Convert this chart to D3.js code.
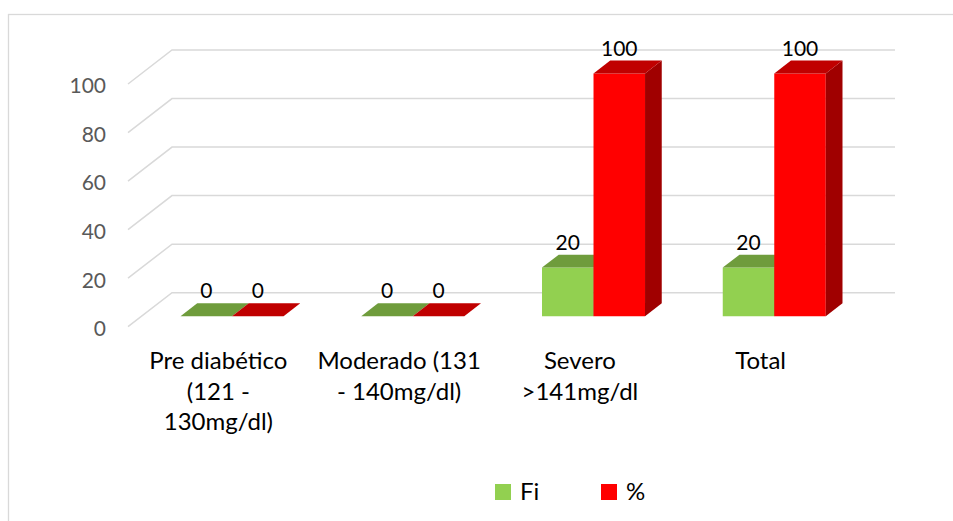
<!DOCTYPE html>
<html>
<head>
<meta charset="utf-8">
<script src="https://cdn.jsdelivr.net/npm/d3@7"></script>
<style>
  html, body { margin: 0; padding: 0; background: #fff; }
  svg { display: block; font-family: Lato, "Open Sans", sans-serif; }
</style>
</head>
<body>
<svg id="chart" width="953" height="521"></svg>
<script>
// Categories, series and tick values
const categories = ["Pre diabético (121 - 130mg/dl)", "Moderado (131 - 140mg/dl)", "Severo >141mg/dl", "Total"];
const categoryLines = [["Pre diabético", "(121 -", "130mg/dl)"], ["Moderado (131", "- 140mg/dl)"], ["Severo", ">141mg/dl"], ["Total"]];
const seriesNames = ["Fi", "%"];
const fiValues = [0, 0, 20, 20];
const pctValues = [0, 0, 100, 100];
const yTicks = [0, 20, 40, 60, 80, 100];

const seriesColors = {
  "Fi": { front: "#92D050", top: "#6F9C3C", side: "#5E8A30" },
  "%":  { front: "#FF0000", top: "#C00000", side: "#A00000" }
};

const svg = d3.select("#chart");

// Chart area border
svg.append("rect")
  .attr("x", 8.5).attr("y", 14.5)
  .attr("width", 1000).attr("height", 600)
  .attr("fill", "none").attr("stroke", "#D9D9D9").attr("stroke-width", 1.3);

// Oblique 3D projection: front plane scales plus a depth vector
const depth = { dx: 44, dy: -34 };
const zFront = 0.31, zBack = 0.69;

const x = d3.scaleBand().domain(categories).range([128, 851])
  .paddingInner(0.43).paddingOuter(0.215);
const xSeries = d3.scaleBand().domain(seriesNames).range([0, x.bandwidth()]);
const y = d3.scaleLinear().domain([0, 100]).range([326.7, 84]);

const proj = (px, py, z) => [px + depth.dx * z, py + depth.dy * z];

// Gridlines: left wall diagonal + back wall horizontal
const grid = svg.append("g");
yTicks.forEach(t => {
  const a = proj(x.range()[0], y(t), 0);
  const b = proj(x.range()[0], y(t), 1);
  const c = proj(x.range()[1], y(t), 1);
  grid.append("path")
    .attr("d", `M${a[0]},${a[1]}L${b[0]},${b[1]}L${c[0]},${c[1]}`)
    .attr("fill", "none").attr("stroke", "#D9D9D9").attr("stroke-width", 1.5);
});

// Value axis labels
svg.append("g").selectAll("text").data(yTicks).join("text")
  .attr("x", 106).attr("y", d => y(d) + 1.8)
  .attr("dy", "0.36em")
  .attr("text-anchor", "end")
  .attr("font-size", 21).attr("fill", "#595959")
  .text(d => d);

// Bars
const rows = categories.map((c, i) => ({ cat: c, values: { "Fi": fiValues[i], "%": pctValues[i] } }));
const bars = svg.append("g");
const poly = pts => "M" + pts.map(p => p.join(",")).join("L") + "Z";

rows.forEach(r => {
  seriesNames.forEach(s => {
    const v = r.values[s];
    const x0 = x(r.cat) + xSeries(s);
    const x1 = x0 + xSeries.bandwidth();
    const yb = y(0), yt = y(v);
    const col = seriesColors[s];
    const fbl = proj(x0, yb, zFront), fbr = proj(x1, yb, zFront);
    const ftl = proj(x0, yt, zFront), ftr = proj(x1, yt, zFront);
    const btl = proj(x0, yt, zBack), btr = proj(x1, yt, zBack);
    const bbr = proj(x1, yb, zBack);
    if (v > 0) {
      bars.append("path").attr("d", poly([fbl, fbr, ftr, ftl])).attr("fill", col.front);
      bars.append("path").attr("d", poly([fbr, bbr, btr, ftr])).attr("fill", col.side);
    }
    bars.append("path").attr("d", poly([ftl, ftr, btr, btl])).attr("fill", col.top);
    // Value label
    bars.append("text")
      .attr("x", (ftl[0] + ftr[0]) / 2)
      .attr("y", btl[1] - 5)
      .attr("text-anchor", "middle")
      .attr("font-size", 21).attr("fill", "#000")
      .text(v);
  });
});

// Category labels, centred on each category band
const catG = svg.append("g");
categories.forEach((c, i) => {
  const t = catG.append("text")
    .attr("text-anchor", "middle")
    .attr("font-size", 24).attr("fill", "#000");
  categoryLines[i].forEach((line, j) => {
    t.append("tspan")
      .attr("x", x(c) + x.bandwidth() / 2)
      .attr("y", 369 + j * 30.5)
      .text(line);
  });
});

// Legend
const legendX = [495, 601];
const legend = svg.append("g");
seriesNames.forEach((s, i) => {
  legend.append("rect")
    .attr("x", legendX[i]).attr("y", 484)
    .attr("width", 16).attr("height", 16)
    .attr("fill", seriesColors[s].front);
  legend.append("text")
    .attr("x", legendX[i] + 25).attr("y", 500)
    .attr("font-size", 24).attr("fill", "#000")
    .text(s);
});
</script>
</body>
</html>
